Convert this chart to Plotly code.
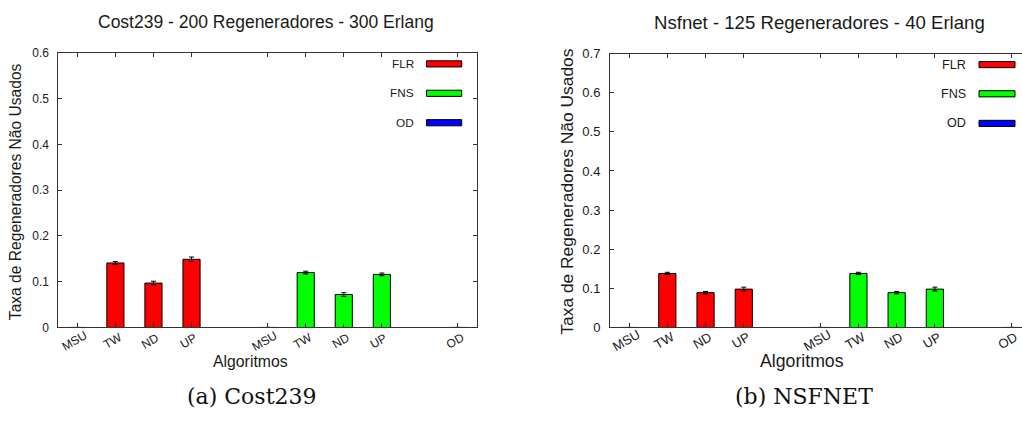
import plotly.graph_objects as go

# ---------------- data ----------------
tick_positions = [1, 2, 3, 4, 6, 7, 8, 9, 11]
tick_labels = ["MSU", "TW", "ND", "UP", "MSU", "TW", "ND", "UP", "OD"]
flr_positions = [1, 2, 3, 4]
fns_positions = [6, 7, 8, 9]
od_positions = [11]

series_names = ["FLR", "FNS", "OD"]
series_colors = ["#ff0000", "#00ff00", "#0000ff"]

# Cost239 - 200 Regeneradores - 300 Erlang
cost_flr = [0.0, 0.141, 0.097, 0.149]
cost_flr_err = [0.0, 0.003, 0.004, 0.005]
cost_fns = [0.0, 0.120, 0.072, 0.116]
cost_fns_err = [0.0, 0.003, 0.004, 0.003]
cost_od = [0.0]
cost_od_err = [0.0]

# Nsfnet - 125 Regeneradores - 40 Erlang
nsf_flr = [0.0, 0.138, 0.089, 0.098]
nsf_flr_err = [0.0, 0.003, 0.003, 0.005]
nsf_fns = [0.0, 0.138, 0.089, 0.098]
nsf_fns_err = [0.0, 0.003, 0.003, 0.005]
nsf_od = [0.0]
nsf_od_err = [0.0]

titles = ["Cost239 - 200 Regeneradores - 300 Erlang",
          "Nsfnet - 125 Regeneradores - 40 Erlang"]
captions = ["(a) Cost239", "(b) NSFNET"]
y_title = "Taxa de Regeneradores Não Usados"
x_title = "Algoritmos"

# ---------------- layout helpers ----------------
W, H = 1022, 421
FONT = "Liberation Sans, Arial, sans-serif"
TXT = "#1a1a1a"


def px(x):
    return x / W


def py(y):
    return 1 - y / H


fig = go.Figure()

panels = [
    dict(xa="x", ya="y", data=[(flr_positions, cost_flr, cost_flr_err),
                               (fns_positions, cost_fns, cost_fns_err),
                               (od_positions, cost_od, cost_od_err)]),
    dict(xa="x2", ya="y2", data=[(flr_positions, nsf_flr, nsf_flr_err),
                                 (fns_positions, nsf_fns, nsf_fns_err),
                                 (od_positions, nsf_od, nsf_od_err)]),
]

for p in panels:
    for (xs, ys, es), name, col in zip(p["data"], series_names, series_colors):
        fig.add_trace(go.Bar(
            x=xs, y=ys, width=0.45, name=name, showlegend=False,
            xaxis=p["xa"], yaxis=p["ya"],
            marker=dict(color=col, line=dict(color="#000000", width=1)),
            error_y=dict(type="data", array=es, visible=True,
                         color="#000000", thickness=1, width=2.5),
        ))

axis_common = dict(showgrid=False, zeroline=False, showline=True,
                   linecolor="#333333", linewidth=1, ticks="inside",
                   ticklen=4, tickcolor="#333333")

fig.update_layout(
    width=W, height=H, autosize=False, margin=dict(l=0, r=0, t=0, b=0, pad=0),
    paper_bgcolor="white", plot_bgcolor="white",
    barmode="overlay", showlegend=False,
    font=dict(family=FONT, color=TXT),
    xaxis=dict(domain=[px(58.3), px(477)], range=[0.5, 11.5],
               tickvals=tick_positions, showticklabels=False,
               anchor="y", mirror="allticks", **axis_common),
    yaxis=dict(domain=[py(332.3), py(47.7)], range=[0, 0.6], dtick=0.1,
               tickfont=dict(size=12, color=TXT, family=FONT),
               ticklabelstandoff=6, anchor="x", mirror="allticks", **axis_common),
    xaxis2=dict(domain=[px(610), 1.0], range=[0.5, 11.28],
                tickvals=tick_positions, showticklabels=False,
                anchor="y2", mirror="allticks", **axis_common),
    yaxis2=dict(domain=[py(332.3), py(48.3)], range=[0, 0.7], dtick=0.1,
                tickfont=dict(size=13, color=TXT, family=FONT),
                ticklabelstandoff=6, anchor="x2", mirror=False, **axis_common),
)

ann = []
shapes = []

# rotated category labels
for xa, fs in (("x", 12), ("x2", 13)):
    for pos, lab in zip(tick_positions, tick_labels):
        ann.append(dict(x=pos, xref=xa, y=py(346), yref="paper", text=lab,
                        textangle=-30, xshift=-3, showarrow=False,
                        xanchor="center", yanchor="middle",
                        font=dict(size=fs, color=TXT, family=FONT)))

# titles, axis titles, captions, legends
specs = [
    dict(title=(266, 16, 17.5), ytit=(16.3, 191.7, 15.6), xtit=(250, 367.7, 15.8),
         cap=(251.5, 404), leg_text_x=415.5, leg_rect=(426.5, 461.7),
         leg_y=[59, 89.5, 120], leg_fs=11.8),
    dict(title=(819.5, 16, 18.6), ytit=(567, 191.5, 17.4), xtit=(802, 366.7, 17.7),
         cap=(803.8, 404), leg_text_x=968.3, leg_rect=(979, 1015),
         leg_y=[59.7, 90, 120.7], leg_fs=12.6),
]

for s, t, c in zip(specs, titles, captions):
    x, y, fs = s["title"]
    ann.append(dict(x=px(x), y=py(y), xref="paper", yref="paper", text=t,
                    showarrow=False, xanchor="center", yanchor="middle",
                    font=dict(size=fs, color=TXT, family=FONT)))
    x, y, fs = s["ytit"]
    ann.append(dict(x=px(x), y=py(y), xref="paper", yref="paper", text=y_title,
                    textangle=-90, showarrow=False, xanchor="center",
                    yanchor="middle", font=dict(size=fs, color=TXT, family=FONT)))
    x, y, fs = s["xtit"]
    ann.append(dict(x=px(x), y=py(y), xref="paper", yref="paper", text=x_title,
                    showarrow=False, xanchor="center", yanchor="middle",
                    font=dict(size=fs, color=TXT, family=FONT)))
    x, y = s["cap"]
    ann.append(dict(x=px(x), y=py(y), xref="paper", yref="paper", text=c,
                    showarrow=False, xanchor="center", yanchor="middle",
                    font=dict(size=22, color="#111111", family="DejaVu Serif, serif")))
    # legend (gnuplot key: text then sample)
    for name, col, ly in zip(series_names, series_colors, s["leg_y"]):
        ann.append(dict(x=px(s["leg_text_x"]), y=py(ly), xref="paper", yref="paper",
                        text=name, showarrow=False, xanchor="right", yanchor="middle",
                        font=dict(size=s["leg_fs"], color=TXT, family=FONT)))
        x0, x1 = s["leg_rect"]
        shapes.append(dict(type="rect", xref="paper", yref="paper",
                           x0=px(x0), x1=px(x1), y0=py(ly + 3.2), y1=py(ly - 3.2),
                           fillcolor=col, line=dict(color="#000000", width=1)))

fig.update_layout(annotations=ann, shapes=shapes)

fig.write_html("out.html", config={"displayModeBar": False},
               post_script="document.body.style.margin='0';"
                           "document.body.style.overflow='hidden';")
